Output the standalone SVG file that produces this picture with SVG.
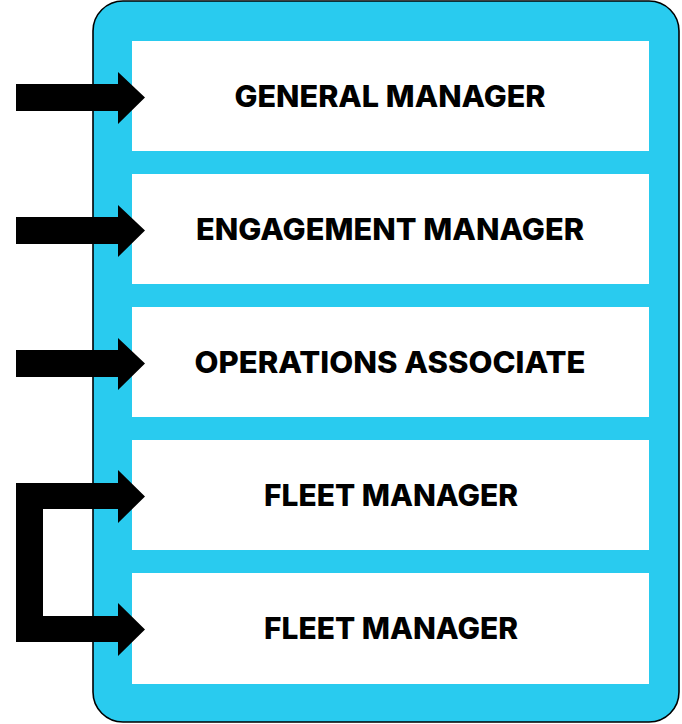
<svg xmlns="http://www.w3.org/2000/svg" width="682" height="724" viewBox="0 0 682 724">
  <style>
    .panel { fill: #29cbef; stroke: #000; stroke-width: 1.6; }
    .box { fill: #fff; }
    .label { font-family: Inter, "Noto Sans", "DejaVu Sans", sans-serif; font-weight: 800; font-size: 30px; fill: #000; text-anchor: middle; }
    .arrow { fill: #000; }
  </style>

  <!-- outer blue panel -->
  <rect class="panel" x="93" y="1" width="586" height="721" rx="30" ry="30"/>

  <g id="general-manager">
    <rect class="box" x="132" y="41" width="517" height="110"/>
    <text class="label" x="390" y="107" textLength="311" lengthAdjust="spacingAndGlyphs">GENERAL MANAGER</text>
  </g>
  <g id="engagement-manager">
    <rect class="box" x="132" y="174" width="517" height="110"/>
    <text class="label" x="390" y="240" textLength="388" lengthAdjust="spacingAndGlyphs">ENGAGEMENT MANAGER</text>
  </g>
  <g id="operations-associate">
    <rect class="box" x="132" y="307" width="517" height="110"/>
    <text class="label" x="390" y="373" textLength="391" lengthAdjust="spacingAndGlyphs">OPERATIONS ASSOCIATE</text>
  </g>
  <g id="fleet-manager-1">
    <rect class="box" x="132" y="440" width="517" height="110"/>
    <text class="label" x="391" y="506" textLength="254" lengthAdjust="spacingAndGlyphs">FLEET MANAGER</text>
  </g>
  <g id="fleet-manager-2">
    <rect class="box" x="132" y="573" width="517" height="111"/>
    <text class="label" x="391" y="639" textLength="254" lengthAdjust="spacingAndGlyphs">FLEET MANAGER</text>
  </g>

  <g id="connectors">
    <polygon class="arrow" points="16,84 118,84 118,72 145,97.5 118,124 118,111 16,111"/>
    <polygon class="arrow" points="16,217 118,217 118,205 145,230.5 118,257 118,244 16,244"/>
    <polygon class="arrow" points="16,350 118,350 118,338 145,363.5 118,390 118,377 16,377"/>
    <!-- bracket linking the two fleet manager boxes -->
    <polygon class="arrow" points="16,483 118,483 118,470 145,496.5 118,523 118,509 43,509 43,616 118,616 118,603 145,629.5 118,656 118,642 16,642"/>
  </g>
</svg>
